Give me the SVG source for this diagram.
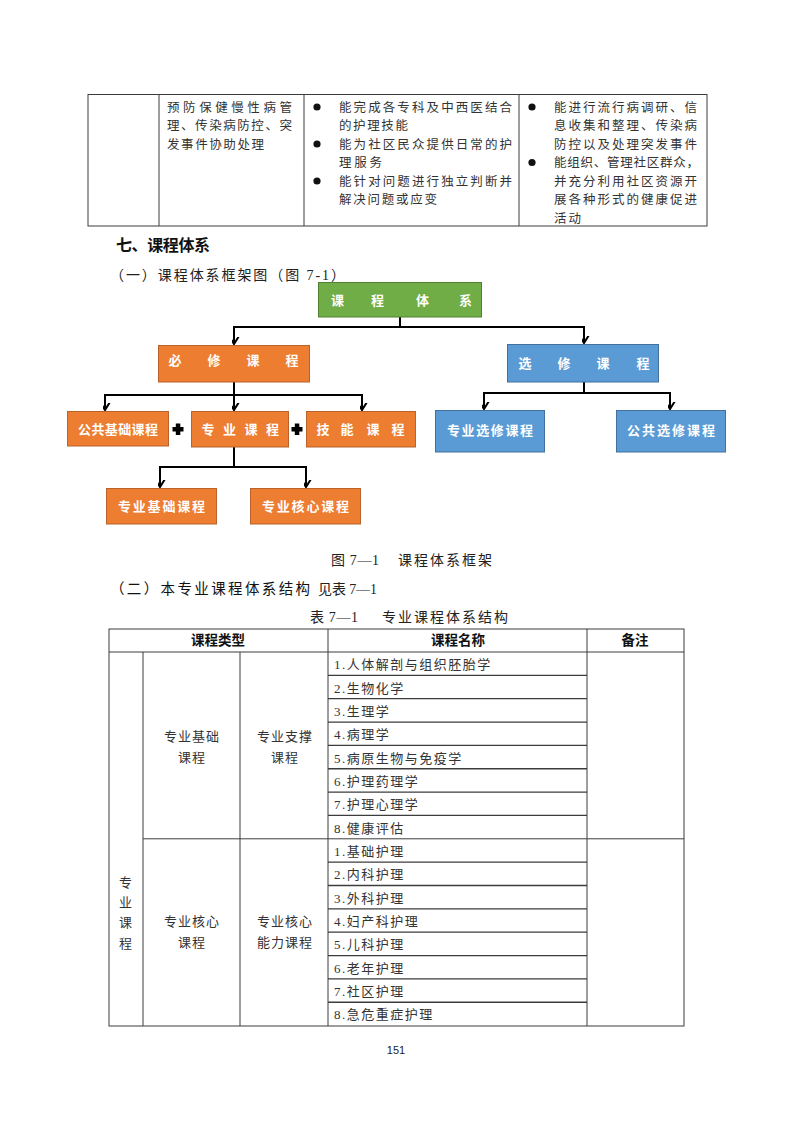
<svg xmlns="http://www.w3.org/2000/svg" width="793" height="1122" viewBox="0 0 793 1122">
<style>
.bg{fill:#ffffff}
.tl{stroke:#3c3c3c;stroke-width:1;fill:none}
.body{font-family:"Liberation Serif","Noto Sans CJK SC",serif;font-size:12.5px;fill:#333}
.cell{font-family:"Liberation Serif","Noto Sans CJK SC",serif;font-size:13px;fill:#333;letter-spacing:1.5px}
.cc{font-family:"Liberation Serif","Noto Sans CJK SC",serif;font-size:13px;fill:#333;letter-spacing:1px}
.hdr{font-family:"Noto Sans CJK SC",sans-serif;font-size:13.5px;font-weight:bold;fill:#111}
.h1{font-family:"Noto Sans CJK SC",sans-serif;font-size:16px;font-weight:bold;fill:#111}
.h2{font-family:"Liberation Serif","Noto Sans CJK SC",serif;font-size:14px;fill:#222}
.bx{font-family:"Noto Sans CJK SC",sans-serif;font-size:13px;font-weight:bold;fill:#ffffff}
.g{fill:#70AD47;stroke:#507E32;stroke-width:1}
.o{fill:#ED7D31;stroke:#B9622A;stroke-width:1}
.b{fill:#5B9BD5;stroke:#41719C;stroke-width:1}
.con{stroke:#000;stroke-width:2;fill:none}
.mid{text-anchor:middle}
</style>
<defs>
<marker id="arr" markerUnits="userSpaceOnUse" viewBox="-7 -10 14 12" refX="0" refY="0" markerWidth="14" markerHeight="12" orient="auto-start-reverse">
<path d="M-5,-8 L0,0 L5,-8" transform="rotate(-90)" fill="none" stroke="#000" stroke-width="2"/>
</marker>
</defs>
<rect class="bg" x="0" y="0" width="793" height="1122"/>

<g id="top-table">
<rect class="tl" x="88" y="94.5" width="619" height="131.5"/>
<line class="tl" x1="159" y1="94.5" x2="159" y2="226"/>
<line class="tl" x1="304" y1="94.5" x2="304" y2="226"/>
<line class="tl" x1="519" y1="94.5" x2="519" y2="226"/>
<text class="body" x="167" y="111.5" textLength="125" lengthAdjust="spacing">预防保健慢性病管</text>
<text class="body" x="167" y="130" textLength="125" lengthAdjust="spacing">理、传染病防控、突</text>
<text class="body" x="167" y="148.5" textLength="97" lengthAdjust="spacing">发事件协助处理</text>
<circle cx="317" cy="107" r="3.6" fill="#111"/>
<circle cx="317" cy="144" r="3.6" fill="#111"/>
<circle cx="317" cy="181" r="3.6" fill="#111"/>
<text class="body" x="339" y="111.5" textLength="173" lengthAdjust="spacing">能完成各专科及中西医结合</text>
<text class="body" x="339" y="130" textLength="69" lengthAdjust="spacing">的护理技能</text>
<text class="body" x="339" y="148.5" textLength="173" lengthAdjust="spacing">能为社区民众提供日常的护</text>
<text class="body" x="339" y="167" textLength="43" lengthAdjust="spacing">理服务</text>
<text class="body" x="339" y="185.5" textLength="173" lengthAdjust="spacing">能针对问题进行独立判断并</text>
<text class="body" x="339" y="204" textLength="98" lengthAdjust="spacing">解决问题或应变</text>
<circle cx="532" cy="107" r="3.6" fill="#111"/>
<circle cx="532" cy="162.5" r="3.6" fill="#111"/>
<text class="body" x="554" y="111.5" textLength="143" lengthAdjust="spacing">能进行流行病调研、信</text>
<text class="body" x="554" y="130" textLength="143" lengthAdjust="spacing">息收集和整理、传染病</text>
<text class="body" x="554" y="148.5" textLength="143" lengthAdjust="spacing">防控以及处理突发事件</text>
<text class="body" x="554" y="167" textLength="145" lengthAdjust="spacing">能组织、管理社区群众，</text>
<text class="body" x="554" y="185.5" textLength="143" lengthAdjust="spacing">并充分利用社区资源开</text>
<text class="body" x="554" y="204" textLength="143" lengthAdjust="spacing">展各种形式的健康促进</text>
<text class="body" x="554" y="222.5" textLength="27" lengthAdjust="spacing">活动</text>
</g>

<g id="headings">
<text class="h1" x="116" y="251" textLength="94" lengthAdjust="spacing">七、课程体系</text>
<text class="h2" x="110" y="280" textLength="235" lengthAdjust="spacing">（一）课程体系框架图（图 7-1）</text>
</g>

<g id="connectors">
<polyline class="con" points="400,317 400,327"/>
<line class="con" x1="233" y1="327" x2="585" y2="327"/>
<line class="con" x1="234" y1="327" x2="234" y2="344" marker-end="url(#arr)"/>
<line class="con" x1="584" y1="327" x2="584" y2="343" marker-end="url(#arr)"/>
<line class="con" x1="234" y1="382" x2="234" y2="395"/>
<line class="con" x1="104" y1="395" x2="363" y2="395"/>
<line class="con" x1="105" y1="395" x2="105" y2="410" marker-end="url(#arr)"/>
<line class="con" x1="234" y1="395" x2="234" y2="410" marker-end="url(#arr)"/>
<line class="con" x1="362" y1="395" x2="362" y2="410" marker-end="url(#arr)"/>
<line class="con" x1="234" y1="447" x2="234" y2="467"/>
<line class="con" x1="159" y1="467" x2="307" y2="467"/>
<line class="con" x1="160" y1="467" x2="160" y2="487" marker-end="url(#arr)"/>
<line class="con" x1="306" y1="467" x2="306" y2="487" marker-end="url(#arr)"/>
<line class="con" x1="584" y1="382" x2="584" y2="393"/>
<line class="con" x1="483" y1="393" x2="671" y2="393"/>
<line class="con" x1="484" y1="393" x2="484" y2="409" marker-end="url(#arr)"/>
<line class="con" x1="670" y1="393" x2="670" y2="409" marker-end="url(#arr)"/>
</g>

<g id="n-root">
<rect class="g" x="318.5" y="282.5" width="163" height="34.5"/>
<text class="bx" x="331 371 416 459" y="305">课程体系</text>
</g>
<g id="n-bixiu">
<rect class="o" x="158.5" y="345.5" width="151" height="36.5"/>
<text class="bx" x="168.5 207.5 246.5 285.5" y="365">必修课程</text>
</g>
<g id="n-xuanxiu">
<rect class="b" x="507.5" y="344.5" width="151" height="37.5"/>
<text class="bx" x="518.5 557.5 596.5 636.5" y="368">选修课程</text>
</g>
<g id="n-gonggong">
<rect class="o" x="67.5" y="411.5" width="101" height="34.5"/>
<text class="bx" x="78" y="434" textLength="80" lengthAdjust="spacing">公共基础课程</text>
</g>
<g id="plus1">
<rect x="172.5" y="427" width="11" height="4.5" fill="#000"/>
<rect x="175.8" y="423.5" width="4.5" height="11.5" fill="#000"/>
</g>
<g id="n-zhuanye">
<rect class="o" x="191.5" y="411.5" width="97" height="35.5"/>
<text class="bx" x="201.5 223 244.5 266" y="434">专业课程</text>
</g>
<g id="plus2">
<rect x="291.5" y="427" width="11" height="4.5" fill="#000"/>
<rect x="294.8" y="423.5" width="4.5" height="11.5" fill="#000"/>
</g>
<g id="n-jineng">
<rect class="o" x="306.5" y="411.5" width="109" height="35.5"/>
<text class="bx" x="316.5 340.5 366.5 391.5" y="434">技能课程</text>
</g>
<g id="n-zyjc">
<rect class="o" x="106.5" y="488.5" width="110" height="35.5"/>
<text class="bx" x="118" y="511" textLength="87" lengthAdjust="spacing">专业基础课程</text>
</g>
<g id="n-zyhx">
<rect class="o" x="250.5" y="488.5" width="110" height="35.5"/>
<text class="bx" x="262" y="511" textLength="87" lengthAdjust="spacing">专业核心课程</text>
</g>
<g id="n-zyxx">
<rect class="b" x="435.5" y="410.5" width="109" height="41.5"/>
<text class="bx" x="447" y="435" textLength="86" lengthAdjust="spacing">专业选修课程</text>
</g>
<g id="n-ggxx">
<rect class="b" x="616.5" y="410.5" width="109" height="41.5"/>
<text class="bx" x="627" y="435" textLength="88" lengthAdjust="spacing">公共选修课程</text>
</g>

<g id="captions">
<text class="h2" x="331" y="565" textLength="48" lengthAdjust="spacing">图 7—1</text>
<text class="h2" x="398" y="565" textLength="94" lengthAdjust="spacing">课程体系框架</text>
<text class="h2" x="110" y="594" textLength="200" lengthAdjust="spacing" style="fill:#111;font-size:14.5px">（二）本专业课程体系结构</text>
<text class="h2" x="318" y="594" textLength="59" lengthAdjust="spacing">见表 7—1</text>
<text class="h2" x="310" y="622" textLength="48" lengthAdjust="spacing">表 7—1</text>
<text class="h2" x="382" y="622" textLength="126" lengthAdjust="spacing">专业课程体系结构</text>
</g>

<g id="course-table">
<rect class="tl" x="109" y="629" width="575" height="397"/>
<line class="tl" x1="109" y1="652" x2="684" y2="652"/>
<line class="tl" x1="143" y1="652" x2="143" y2="1026"/>
<line class="tl" x1="240" y1="652" x2="240" y2="1026"/>
<line class="tl" x1="328" y1="629" x2="328" y2="1026"/>
<line class="tl" x1="587" y1="629" x2="587" y2="1026"/>
<line class="tl" x1="143" y1="838.8" x2="684" y2="838.8"/>
<g class="tl" style="stroke-width:1.3">
<line x1="328" y1="675.35" x2="587" y2="675.35"/>
<line x1="328" y1="698.7" x2="587" y2="698.7"/>
<line x1="328" y1="722.05" x2="587" y2="722.05"/>
<line x1="328" y1="745.4" x2="587" y2="745.4"/>
<line x1="328" y1="768.75" x2="587" y2="768.75"/>
<line x1="328" y1="792.1" x2="587" y2="792.1"/>
<line x1="328" y1="815.45" x2="587" y2="815.45"/>
<line x1="328" y1="862.15" x2="587" y2="862.15"/>
<line x1="328" y1="885.5" x2="587" y2="885.5"/>
<line x1="328" y1="908.85" x2="587" y2="908.85"/>
<line x1="328" y1="932.2" x2="587" y2="932.2"/>
<line x1="328" y1="955.55" x2="587" y2="955.55"/>
<line x1="328" y1="978.9" x2="587" y2="978.9"/>
<line x1="328" y1="1002.25" x2="587" y2="1002.25"/>
</g>
<text class="hdr mid" x="218" y="645">课程类型</text>
<text class="hdr mid" x="458" y="645">课程名称</text>
<text class="hdr mid" x="635" y="645">备注</text>
<text class="cc mid" x="126" y="887">专</text>
<text class="cc mid" x="126" y="907">业</text>
<text class="cc mid" x="126" y="927">课</text>
<text class="cc mid" x="126" y="948">程</text>
<text class="cc mid" x="192" y="741">专业基础</text>
<text class="cc mid" x="192" y="761.5">课程</text>
<text class="cc mid" x="285" y="741">专业支撑</text>
<text class="cc mid" x="285" y="761.5">课程</text>
<text class="cc mid" x="192" y="926">专业核心</text>
<text class="cc mid" x="192" y="947">课程</text>
<text class="cc mid" x="285" y="926">专业核心</text>
<text class="cc mid" x="285" y="947">能力课程</text>
<text class="cell" x="334" y="669">1.人体解剖与组织胚胎学</text>
<text class="cell" x="334" y="692.5">2.生物化学</text>
<text class="cell" x="334" y="715.8">3.生理学</text>
<text class="cell" x="334" y="739.2">4.病理学</text>
<text class="cell" x="334" y="762.5">5.病原生物与免疫学</text>
<text class="cell" x="334" y="785.9">6.护理药理学</text>
<text class="cell" x="334" y="809.2">7.护理心理学</text>
<text class="cell" x="334" y="832.6">8.健康评估</text>
<text class="cell" x="334" y="855.9">1.基础护理</text>
<text class="cell" x="334" y="879.3">2.内科护理</text>
<text class="cell" x="334" y="902.6">3.外科护理</text>
<text class="cell" x="334" y="926">4.妇产科护理</text>
<text class="cell" x="334" y="949.3">5.儿科护理</text>
<text class="cell" x="334" y="972.7">6.老年护理</text>
<text class="cell" x="334" y="996">7.社区护理</text>
<text class="cell" x="334" y="1019.4">8.急危重症护理</text>
</g>

<text x="396" y="1054" text-anchor="middle" style="font-family:'Liberation Sans',sans-serif;font-size:11px;fill:#222">151</text>
</svg>
